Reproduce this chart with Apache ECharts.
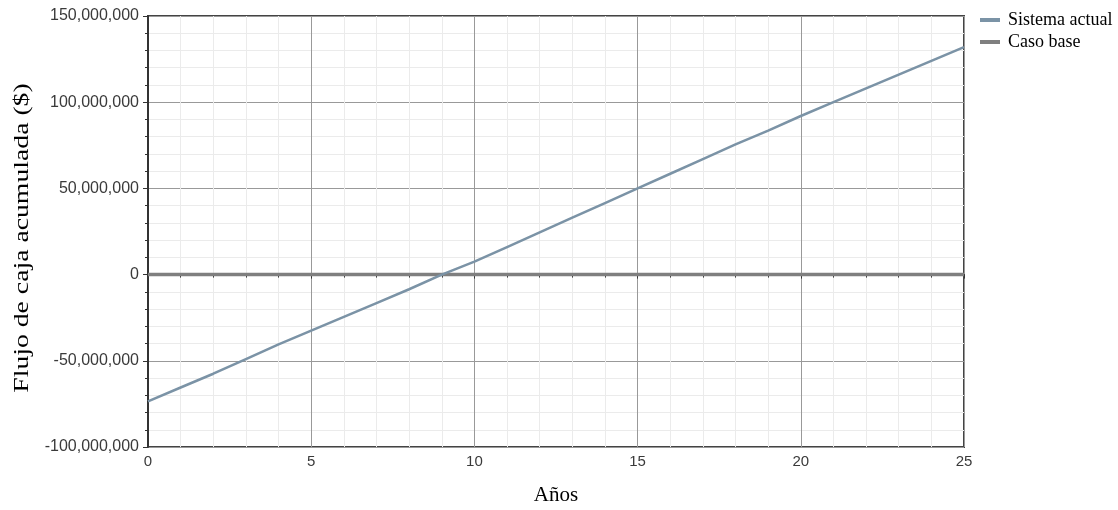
<!DOCTYPE html>
<html>
<head>
<meta charset="utf-8">
<script src="https://cdn.jsdelivr.net/npm/echarts@6/dist/echarts.min.js"></script>
<style>
  html, body { margin: 0; padding: 0; background: #fff; }
  #chart { width: 1118px; height: 510px; }
</style>
</head>
<body>
<div id="chart"></div>
<script>
// Years of the project horizon
const years = [0,1,2,3,4,5,6,7,8,9,10,11,12,13,14,15,16,17,18,19,20,21,22,23,24,25];
// Accumulated cash flow, current system ($)
const sistemaActual = [
  -73500000, -65500000, -57500000, -49000000, -40500000, -32500000,
  -24500000, -16500000, -8500000, 0, 7500000, 16000000,
  24500000, 33000000, 41500000, 50000000, 58500000, 67000000,
  75500000, 83500000, 92000000, 100000000, 108000000, 116000000,
  124000000, 132000000
];
// Base case reference ($)
const casoBase = [0,0,0,0,0,0,0,0,0,0,0,0,0,0,0,0,0,0,0,0,0,0,0,0,0,0];
const seriesNames = ['Sistema actual', 'Caso base'];
const yTitle = 'Flujo de caja acumulada ($)';
const xTitle = 'Años';

const pairs = (ys) => years.map((x, i) => [x, ys[i]]);

const chart = echarts.init(document.getElementById('chart'));
chart.setOption({
  animation: false,
  backgroundColor: '#fff',
  grid: {
    left: 148, right: 154, top: 16, bottom: 63,
    outerBoundsMode: 'none',
    show: true, borderColor: '#444', borderWidth: 2, backgroundColor: 'transparent'
  },
  legend: {
    orient: 'vertical',
    left: 975, top: 6,
    itemWidth: 20, itemHeight: 4, itemGap: 4,
    icon: 'rect',
    textStyle: { fontFamily: 'Liberation Serif', fontSize: 18, color: '#000', padding: [0, 0, 0, 3] },
    data: seriesNames
  },
  // vertical title, drawn slightly elongated along its length
  graphic: [{
    type: 'text',
    x: 22, y: 238,
    rotation: Math.PI / 2,
    scaleX: 1.32,
    style: {
      text: yTitle,
      fontFamily: 'Liberation Serif', fontSize: 21, fill: '#000',
      align: 'center', verticalAlign: 'middle'
    }
  }],
  xAxis: {
    type: 'value', min: 0, max: 25, interval: 5,
    name: xTitle, nameLocation: 'middle', nameGap: 38,
    nameTextStyle: { fontFamily: 'Liberation Serif', fontSize: 21, color: '#000' },
    axisLine: { lineStyle: { color: '#333', width: 2 } },
    axisTick: { show: true, length: 4, lineStyle: { color: '#333' } },
    minorTick: { show: true, splitNumber: 5, length: 3, lineStyle: { color: '#333' } },
    axisLabel: { fontFamily: 'Liberation Sans', fontSize: 15, color: '#3a3a3a', margin: 7 },
    splitLine: { show: true, lineStyle: { color: '#999', width: 1 } },
    minorSplitLine: { show: true, lineStyle: { color: '#ebebeb', width: 1 } }
  },
  yAxis: {
    type: 'value', min: -100000000, max: 150000000, interval: 50000000,
    axisLine: { show: true, lineStyle: { color: '#333', width: 2 } },
    axisTick: { show: true, length: 5, lineStyle: { color: '#333' } },
    minorTick: { show: true, splitNumber: 5, length: 3, lineStyle: { color: '#333' } },
    axisLabel: {
      fontFamily: 'Liberation Sans', fontSize: 16, color: '#3a3a3a', margin: 9,
      formatter: (v) => v.toLocaleString('en-US')
    },
    splitLine: { show: true, lineStyle: { color: '#999', width: 1 } },
    minorSplitLine: { show: true, lineStyle: { color: '#ebebeb', width: 1 } }
  },
  series: [
    {
      name: seriesNames[0], type: 'line', data: pairs(sistemaActual),
      symbol: 'none', z: 3,
      lineStyle: { color: '#7b93a6', width: 2.5 },
      itemStyle: { color: '#7b93a6' }
    },
    {
      name: seriesNames[1], type: 'line', data: pairs(casoBase),
      symbol: 'none', z: 2,
      lineStyle: { color: '#7f7f7f', width: 3.5 },
      itemStyle: { color: '#7f7f7f' }
    }
  ]
});
</script>
</body>
</html>
